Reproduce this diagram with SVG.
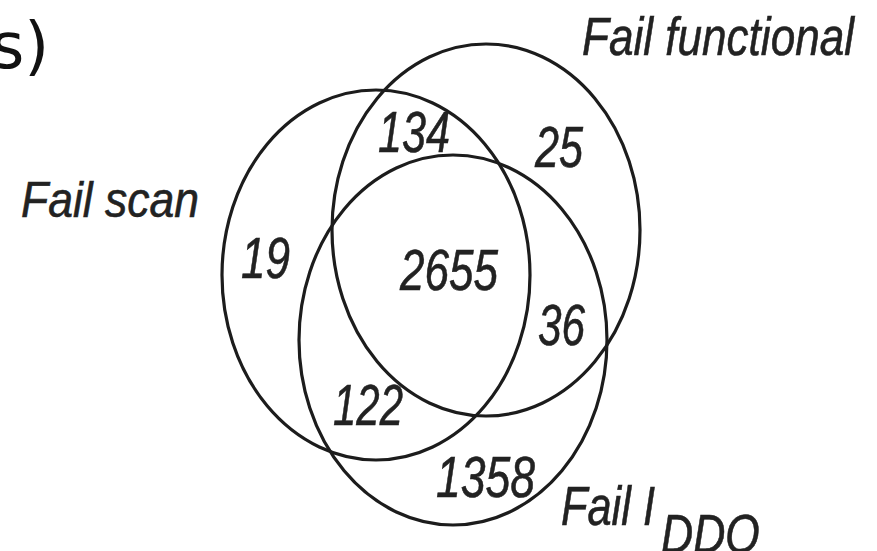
<svg xmlns="http://www.w3.org/2000/svg" width="877" height="551" viewBox="0 0 877 551">
<style>
.set{fill:none;stroke:#1c1c1c;stroke-width:3.2}
.lbl{font-family:"Liberation Sans",Arial,sans-serif;font-style:italic;fill:#222;stroke:#222;stroke-width:0.6}
.num{font-family:"Liberation Sans",Arial,sans-serif;font-style:italic;font-size:58px;fill:#222;stroke:#222;stroke-width:0.6}
</style>
<rect width="877" height="551" fill="#ffffff"/>
<text x="-9" y="68" font-family="DejaVu Sans, sans-serif" font-size="64" fill="#111">s)</text>
<g id="fail-scan">
<ellipse class="set" cx="376" cy="275" rx="154" ry="185"/>
<text class="lbl" x="21" y="217" font-size="50" textLength="178" lengthAdjust="spacingAndGlyphs">Fail scan</text>
</g>
<g id="fail-functional">
<ellipse class="set" cx="486" cy="230" rx="154" ry="186"/>
<text class="lbl" x="582" y="55" font-size="54" textLength="272" lengthAdjust="spacingAndGlyphs">Fail functional</text>
</g>
<g id="fail-iddq">
<ellipse class="set" cx="453" cy="340" rx="154" ry="185"/>
<text class="lbl" x="561" y="525" font-size="56" textLength="94" lengthAdjust="spacingAndGlyphs">Fail I</text>
<text class="lbl" x="661" y="553" font-size="56" textLength="99" lengthAdjust="spacingAndGlyphs">DDQ</text>
</g>
<g id="counts">
<text class="num" x="378" y="152" textLength="72" lengthAdjust="spacingAndGlyphs">134</text>
<text class="num" x="535" y="167" textLength="48" lengthAdjust="spacingAndGlyphs">25</text>
<text class="num" x="241" y="278" textLength="49" lengthAdjust="spacingAndGlyphs">19</text>
<text class="num" x="400" y="290" textLength="98" lengthAdjust="spacingAndGlyphs">2655</text>
<text class="num" x="538" y="345" textLength="47" lengthAdjust="spacingAndGlyphs">36</text>
<text class="num" x="333" y="425" textLength="70" lengthAdjust="spacingAndGlyphs">122</text>
<text class="num" x="436" y="497" textLength="99" lengthAdjust="spacingAndGlyphs">1358</text>
</g>
<g id="connectors"/>
</svg>
